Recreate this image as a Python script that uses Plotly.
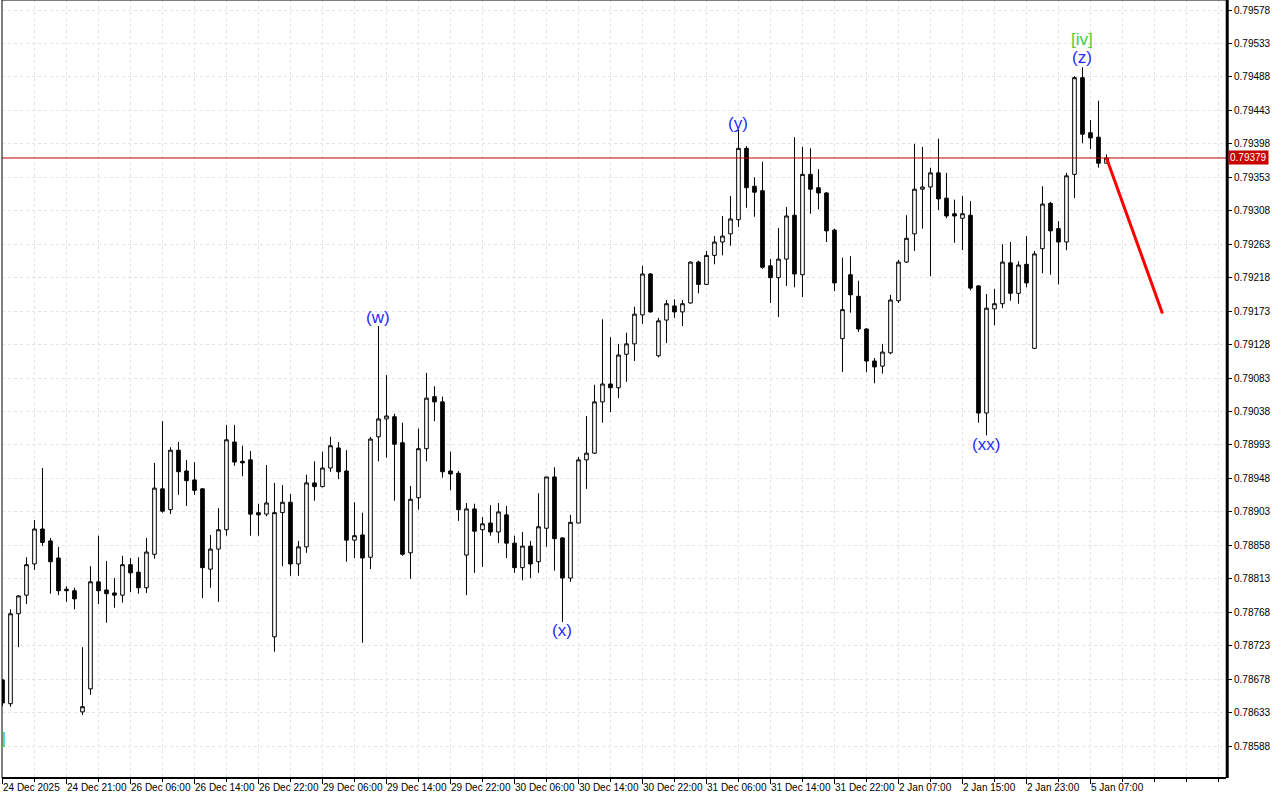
import plotly.graph_objects as go

# ---------------- data (hourly bars, index 0 .. 138) ----------------
opens = [
    0.78677, 0.78645, 0.78766, 0.78791, 0.78833, 0.78880, 0.78864, 0.78841, 0.78799, 0.78797,
    0.78634, 0.78665, 0.78809, 0.78798, 0.78794, 0.78791, 0.78832, 0.78822, 0.78801, 0.78846,
    0.78934, 0.78906, 0.78986, 0.78958, 0.78946, 0.78934, 0.78826, 0.78853, 0.78879, 0.78997,
    0.78971, 0.78973, 0.78902, 0.78900, 0.78735, 0.78902, 0.78916, 0.78833, 0.78856, 0.78942,
    0.78937, 0.78962, 0.78989, 0.78958, 0.78865, 0.78872, 0.78842, 0.79004, 0.79028, 0.79031,
    0.78996, 0.78848, 0.78922, 0.78988, 0.79058, 0.79051, 0.78958, 0.78955, 0.78845, 0.78907,
    0.78879, 0.78888, 0.78876, 0.78899, 0.78861, 0.78828, 0.78857, 0.78836, 0.78881, 0.78950,
    0.78868, 0.78814, 0.78888, 0.78973, 0.78982, 0.79051, 0.79075, 0.79070, 0.79115, 0.79129,
    0.79168, 0.79223, 0.79113, 0.79161, 0.79180, 0.79172, 0.79184, 0.79239, 0.79209, 0.79248,
    0.79266, 0.79277, 0.79296, 0.79392, 0.79341, 0.79335, 0.79234, 0.79218, 0.79243, 0.79302,
    0.79222, 0.79357, 0.79339, 0.79332, 0.79282, 0.79136, 0.79222, 0.79193, 0.79149, 0.79106,
    0.79099, 0.79117, 0.79187, 0.79239, 0.79277, 0.79337, 0.79340, 0.79359, 0.79325, 0.79304,
    0.79298, 0.79302, 0.79207, 0.79036, 0.79176, 0.79183, 0.79238, 0.79197, 0.79236, 0.79123,
    0.79257, 0.79318, 0.79284, 0.79266, 0.79357, 0.79487, 0.79413, 0.79407, 0.79372,
]
highs = [
    0.78678, 0.78772, 0.78791, 0.78842, 0.78892, 0.78962, 0.78868, 0.78856, 0.78803, 0.78801,
    0.78721, 0.78830, 0.78871, 0.78837, 0.78814, 0.78844, 0.78841, 0.78842, 0.78868, 0.78969,
    0.79025, 0.78990, 0.78997, 0.78973, 0.78970, 0.78935, 0.78872, 0.78908, 0.79020, 0.79020,
    0.78992, 0.78985, 0.78914, 0.78966, 0.78942, 0.78939, 0.78927, 0.78864, 0.78953, 0.78971,
    0.78984, 0.79004, 0.78997, 0.78986, 0.78916, 0.78902, 0.79004, 0.79153, 0.79087, 0.79035,
    0.79023, 0.78938, 0.79015, 0.79090, 0.79072, 0.79058, 0.78984, 0.78958, 0.78915, 0.78914,
    0.78896, 0.78912, 0.78915, 0.78911, 0.78871, 0.78876, 0.78864, 0.78928, 0.78950, 0.78963,
    0.78869, 0.78899, 0.78977, 0.79032, 0.79074, 0.79162, 0.79138, 0.79129, 0.79144, 0.79179,
    0.79234, 0.79224, 0.79164, 0.79188, 0.79189, 0.79188, 0.79240, 0.79241, 0.79254, 0.79274,
    0.79301, 0.79328, 0.79417, 0.79395, 0.79353, 0.79374, 0.79243, 0.79285, 0.79313, 0.79407,
    0.79394, 0.79392, 0.79364, 0.79333, 0.79284, 0.79245, 0.79247, 0.79214, 0.79150, 0.79110,
    0.79129, 0.79195, 0.79242, 0.79302, 0.79398, 0.79394, 0.79366, 0.79405, 0.79359, 0.79323,
    0.79328, 0.79321, 0.79208, 0.79196, 0.79203, 0.79263, 0.79266, 0.79240, 0.79274, 0.79254,
    0.79341, 0.79320, 0.79294, 0.79359, 0.79489, 0.79501, 0.79430, 0.79456, 0.79384,
]
lows = [
    0.78642, 0.78641, 0.78721, 0.78779, 0.78825, 0.78857, 0.78793, 0.78791, 0.78782, 0.78772,
    0.78630, 0.78657, 0.78779, 0.78754, 0.78774, 0.78781, 0.78795, 0.78793, 0.78794, 0.78840,
    0.78902, 0.78900, 0.78926, 0.78911, 0.78926, 0.78787, 0.78801, 0.78782, 0.78871, 0.78965,
    0.78951, 0.78871, 0.78871, 0.78897, 0.78715, 0.78830, 0.78817, 0.78817, 0.78848, 0.78918,
    0.78936, 0.78957, 0.78947, 0.78836, 0.78841, 0.78727, 0.78826, 0.78971, 0.78976, 0.78918,
    0.78844, 0.78813, 0.78906, 0.78971, 0.79025, 0.78949, 0.78932, 0.78891, 0.78791, 0.78821,
    0.78829, 0.78871, 0.78861, 0.78841, 0.78821, 0.78811, 0.78814, 0.78821, 0.78856, 0.78824,
    0.78755, 0.78809, 0.78888, 0.78934, 0.78981, 0.79023, 0.79037, 0.79056, 0.79078, 0.79106,
    0.79156, 0.79171, 0.79111, 0.79130, 0.79164, 0.79153, 0.79183, 0.79197, 0.79208, 0.79236,
    0.79248, 0.79261, 0.79286, 0.79312, 0.79300, 0.79230, 0.79184, 0.79165, 0.79207, 0.79205,
    0.79192, 0.79304, 0.79310, 0.79266, 0.79200, 0.79091, 0.79171, 0.79145, 0.79091, 0.79076,
    0.79089, 0.79115, 0.79184, 0.79238, 0.79254, 0.79284, 0.79220, 0.79309, 0.79298, 0.79265,
    0.79255, 0.79201, 0.79023, 0.79006, 0.79154, 0.79177, 0.79187, 0.79183, 0.79205, 0.79122,
    0.79224, 0.79222, 0.79209, 0.79255, 0.79325, 0.79399, 0.79391, 0.79366, 0.79372,
]
closes = [
    0.78646, 0.78766, 0.78790, 0.78832, 0.78880, 0.78862, 0.78836, 0.78797, 0.78797, 0.78786,
    0.78641, 0.78809, 0.78797, 0.78793, 0.78791, 0.78832, 0.78821, 0.78801, 0.78849, 0.78935,
    0.78904, 0.78986, 0.78957, 0.78945, 0.78932, 0.78828, 0.78853, 0.78879, 0.79000, 0.78970,
    0.78969, 0.78900, 0.78899, 0.78915, 0.78902, 0.78916, 0.78833, 0.78856, 0.78942, 0.78937,
    0.78962, 0.78992, 0.78957, 0.78865, 0.78871, 0.78841, 0.79001, 0.79028, 0.79032, 0.78994,
    0.78846, 0.78920, 0.78988, 0.79056, 0.79051, 0.78957, 0.78954, 0.78906, 0.78907, 0.78877,
    0.78887, 0.78876, 0.78903, 0.78861, 0.78828, 0.78857, 0.78833, 0.78883, 0.78950, 0.78867,
    0.78814, 0.78889, 0.78973, 0.78982, 0.79051, 0.79075, 0.79070, 0.79114, 0.79129, 0.79169,
    0.79223, 0.79172, 0.79160, 0.79183, 0.79172, 0.79183, 0.79239, 0.79209, 0.79248, 0.79266,
    0.79274, 0.79297, 0.79392, 0.79339, 0.79333, 0.79232, 0.79218, 0.79243, 0.79301, 0.79223,
    0.79357, 0.79337, 0.79332, 0.79281, 0.79211, 0.79175, 0.79195, 0.79149, 0.79106, 0.79098,
    0.79118, 0.79188, 0.79239, 0.79271, 0.79337, 0.79340, 0.79359, 0.79324, 0.79301, 0.79301,
    0.79304, 0.79204, 0.79036, 0.79177, 0.79183, 0.79239, 0.79197, 0.79235, 0.79211, 0.79250,
    0.79317, 0.79281, 0.79266, 0.79355, 0.79487, 0.79411, 0.79406, 0.79372, 0.79379,
]
bar_index = list(range(len(opens)))

# time axis labels (every 8 hourly bars)
time_tick_bars = [0, 8, 16, 24, 32, 40, 48, 56, 64, 72, 80, 88, 96, 104, 112, 120, 128, 136]
time_tick_labels = [
    "24 Dec 2025", "24 Dec 21:00", "26 Dec 06:00", "26 Dec 14:00", "26 Dec 22:00",
    "29 Dec 06:00", "29 Dec 14:00", "29 Dec 22:00", "30 Dec 06:00", "30 Dec 14:00",
    "30 Dec 22:00", "31 Dec 06:00", "31 Dec 14:00", "31 Dec 22:00", "2 Jan 07:00",
    "2 Jan 15:00", "2 Jan 23:00", "5 Jan 07:00",
]

# price axis labels
price_ticks = [
    0.78588, 0.78633, 0.78678, 0.78723, 0.78768, 0.78813, 0.78858, 0.78903, 0.78948,
    0.78993, 0.79038, 0.79083, 0.79128, 0.79173, 0.79218, 0.79263, 0.79308, 0.79353,
    0.79398, 0.79443, 0.79488, 0.79533, 0.79578,
]
price_tick_labels = ["%.5f" % v for v in price_ticks]

current_price = 0.79379

# wave labels
wave_labels = ["(w)", "(x)", "(y)", "(xx)", "(z)"]
wave_bars = [47, 70, 92, 123, 135]
wave_prices = [0.79164, 0.78744, 0.79426, 0.78994, 0.79514]

major_label = "[iv]"
major_bar = 135
major_price = 0.79539

left_label = "]"
left_bar = 0.75
left_price = 0.78598

# forecast line
forecast_bars = [138, 145]
forecast_prices = [0.79379, 0.79170]

# ---------------- figure ----------------
FONT = "Liberation Sans"

fig = go.Figure()

fig.add_trace(go.Candlestick(
    x=bar_index, open=opens, high=highs, low=lows, close=closes,
    increasing=dict(line=dict(color="black", width=1), fillcolor="white"),
    decreasing=dict(line=dict(color="black", width=1), fillcolor="black"),
    whiskerwidth=0, showlegend=False, hoverinfo="skip",
))

fig.add_trace(go.Scatter(
    x=forecast_bars, y=forecast_prices, mode="lines",
    line=dict(color="#ff0000", width=3), showlegend=False, hoverinfo="skip",
))

# current price line
fig.add_shape(type="line", xref="paper", x0=0, x1=1, yref="y",
              y0=current_price, y1=current_price,
              line=dict(color="#c00000", width=1), layer="above")

# frame
fig.add_shape(type="line", xref="paper", yref="paper", x0=0, x1=0, y0=0, y1=1,
              line=dict(color="black", width=1))
fig.add_shape(type="line", xref="paper", yref="paper", x0=0, x1=1, y0=0, y1=0,
              line=dict(color="black", width=2))
fig.add_shape(type="line", xref="paper", yref="paper", x0=0, x1=1, y0=1, y1=1,
              line=dict(color="black", width=1))
fig.add_shape(type="line", xref="paper", yref="paper", x0=1.001, x1=1.001, y0=0, y1=1,
              line=dict(color="black", width=3))

for t, b, p in zip(wave_labels, wave_bars, wave_prices):
    fig.add_annotation(x=b, y=p, text=t, showarrow=False,
                       font=dict(family=FONT, size=17, color="#2a2aff"),
                       xanchor="center", yanchor="middle")

fig.add_annotation(x=major_bar, y=major_price, text=major_label, showarrow=False,
                   font=dict(family=FONT, size=17, color="#3fcf3f"),
                   xanchor="center", yanchor="middle")

fig.add_annotation(x=left_bar, y=left_price, text=left_label, showarrow=False,
                   font=dict(family=FONT, size=17, color="#3fcf3f"),
                   xanchor="right", yanchor="middle")

# current price box on the axis
fig.add_annotation(xref="paper", x=1.0015, y=current_price, yref="y",
                   text="%.5f" % current_price, showarrow=False,
                   xanchor="left", yanchor="middle",
                   font=dict(family=FONT, size=10, color="white"),
                   bgcolor="#c80000", borderpad=1)

grid_color = "#e4e4e4"

fig.update_layout(
    width=1280, height=800,
    margin=dict(l=2, r=54, t=0, b=22, autoexpand=False),
    paper_bgcolor="white", plot_bgcolor="white",
    boxgap=0.35,
    xaxis=dict(
        range=[-0.06, 152.94],
        rangeslider=dict(visible=False),
        tickmode="array", tickvals=time_tick_bars, ticktext=time_tick_labels,
        ticks="outside", ticklen=5, tickcolor="black", tickwidth=1,
        ticklabelposition="outside right", tickangle=0, automargin=False,
        tickfont=dict(family=FONT, size=10, color="black"),
        showgrid=True, gridcolor=grid_color, griddash="3px,3px", gridwidth=1,
        minor=dict(tickmode="linear", tick0=0, dtick=4, ticks="outside", ticklen=3,
                   tickcolor="black", showgrid=True, gridcolor=grid_color,
                   griddash="3px,3px"),
        showline=False, zeroline=False, fixedrange=True,
    ),
    yaxis=dict(
        side="right", automargin=False,
        range=[0.785451, 0.795915],
        tickmode="array", tickvals=price_ticks, ticktext=price_tick_labels,
        ticks="outside", ticklen=5, tickcolor="black",
        tickfont=dict(family=FONT, size=10, color="black"),
        showgrid=True, gridcolor=grid_color, griddash="3px,3px", gridwidth=1,
        showline=False, zeroline=False, fixedrange=True,
    ),
)

fig.write_html(
    "out.html",
    config={"displayModeBar": False},
    post_script="document.body.style.margin='0';document.body.style.overflow='hidden';",
)
